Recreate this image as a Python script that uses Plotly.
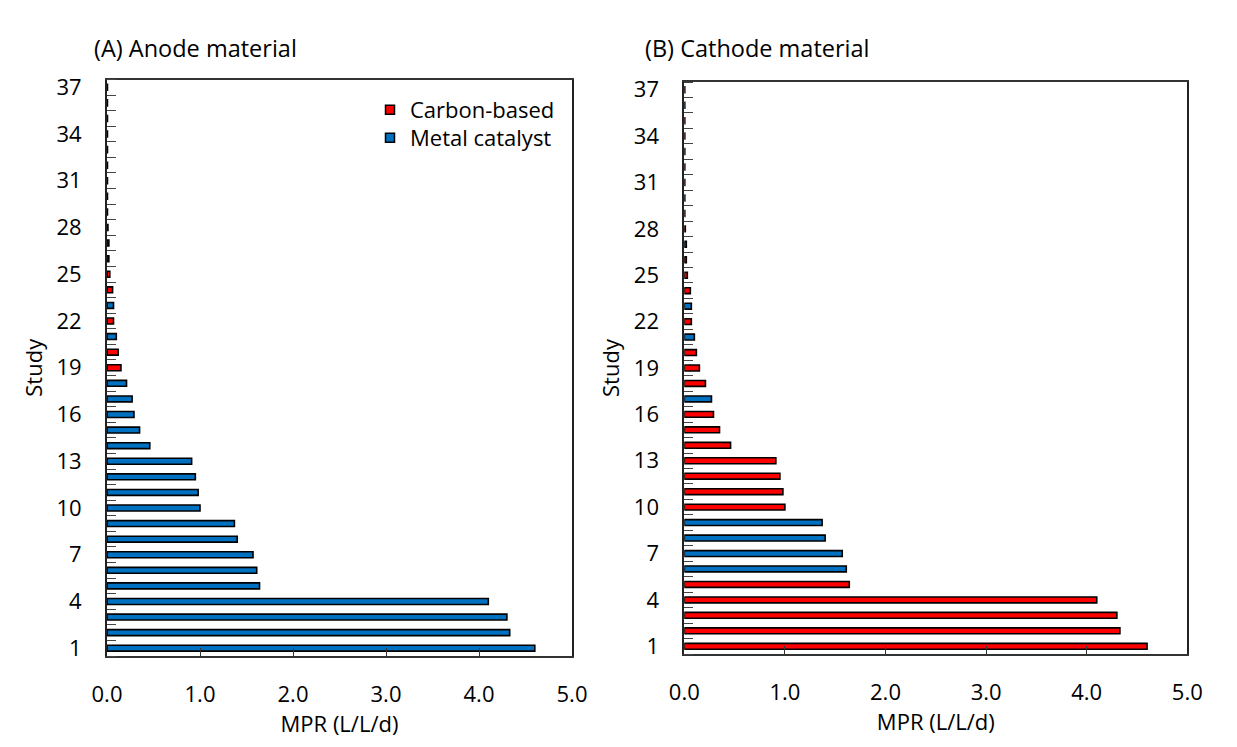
import plotly.graph_objects as go

# Study index (bottom to top) and methane production rate, sorted high to low
studies = list(range(1, 38))
mpr = [4.60, 4.33, 4.30, 4.10, 1.64, 1.61, 1.57, 1.40, 1.37, 1.00,
       0.98, 0.95, 0.91, 0.46, 0.35, 0.29, 0.27, 0.21, 0.15, 0.12,
       0.10, 0.07, 0.07, 0.06, 0.03, 0.02, 0.02, 0.01, 0.005, 0.005,
       0.005, 0.005, 0.005, 0.005, 0.005, 0.005, 0.005]

# Electrode material class for each study: C = carbon-based, M = metal catalyst
anode_type = ["M", "M", "M", "M", "M", "M", "M", "M", "M", "M",
              "M", "M", "M", "M", "M", "M", "M", "M", "C", "C",
              "M", "C", "M", "C", "C", "C", "M", "C", "C", "M",
              "C", "C", "M", "C", "C", "M", "C"]
cathode_type = ["C", "C", "C", "C", "C", "M", "M", "M", "M", "C",
                "C", "C", "C", "C", "C", "C", "M", "C", "C", "C",
                "M", "C", "M", "C", "C", "C", "M", "C", "C", "M",
                "C", "C", "M", "C", "C", "M", "C"]

y_ticks = [1, 4, 7, 10, 13, 16, 19, 22, 25, 28, 31, 34, 37]
x_ticks = [0, 1, 2, 3, 4, 5]
x_tick_text = ["0.0", "1.0", "2.0", "3.0", "4.0", "5.0"]

COLORS = {"C": "#FF0000", "M": "#0070C0"}
NAMES = {"C": "Carbon-based", "M": "Metal catalyst"}
FONT = "'Open Sans', Lato, sans-serif"
FS = 22
W, H = 1237, 747

fig = go.Figure()

for types, xa, ya in [(anode_type, "x", "y"), (cathode_type, "x2", "y2")]:
    fig.add_trace(go.Bar(
        x=mpr, y=studies, orientation="h", xaxis=xa, yaxis=ya,
        width=0.38,
        marker=dict(color=[COLORS[t] for t in types],
                    line=dict(color="black", width=1.6)),
        showlegend=False,
    ))

# Legend entries (square swatches), one legend box per entry
for key, leg in [("C", "legend"), ("M", "legend2")]:
    fig.add_trace(go.Scatter(
        x=[None], y=[None], mode="markers", xaxis="x", yaxis="y",
        name=NAMES[key], legend=leg,
        marker=dict(symbol="square", size=9, color=COLORS[key],
                    line=dict(color="black", width=1.5)),
    ))

boundaries = [i + 0.5 for i in range(0, 38)]

def xaxis(domain, anchor):
    return dict(
        domain=domain, anchor=anchor, range=[0, 5], automargin=False,
        tickvals=x_ticks, ticktext=x_tick_text,
        ticks="inside", ticklen=8, tickwidth=1.3, tickcolor="#333333",
        showline=True, linecolor="#333333", linewidth=1.5, mirror=True,
        showgrid=False, zeroline=False,
        tickfont=dict(family=FONT, size=FS, color="black"),
        ticklabelstandoff=18,
        title=dict(text="MPR (L/L/d)", standoff=2,
                   font=dict(family=FONT, size=FS, color="black")),
    )

def yaxis(domain, anchor):
    return dict(
        domain=domain, anchor=anchor, range=[0.5, 37.5], automargin=False,
        tickvals=y_ticks, ticks="",
        minor=dict(tickvals=boundaries, ticks="inside", ticklen=9,
                   tickwidth=1.3, tickcolor="#444444", showgrid=False),
        showline=True, linecolor="#222222", linewidth=1.8, mirror=True,
        showgrid=False, zeroline=False,
        tickfont=dict(family=FONT, size=FS, color="black"),
        ticklabelstandoff=19,
        title=dict(text="Study", standoff=8,
                   font=dict(family=FONT, size=FS, color="black")),
    )

def legend_box(y_center):
    return dict(x=370 / W, y=1 - y_center / H, xanchor="left", yanchor="middle",
                bgcolor="rgba(0,0,0,0)", itemwidth=30,
                font=dict(family=FONT, size=FS, color="black"))

fig.update_layout(
    width=W, height=H,
    margin=dict(l=0, r=0, t=0, b=0),
    paper_bgcolor="white", plot_bgcolor="white",
    barmode="overlay",
    xaxis=xaxis([107 / W, 572 / W], "y"),
    yaxis=yaxis([1 - 656 / H, 1 - 79.5 / H], "x"),
    xaxis2=xaxis([684.3 / W, 1187.3 / W], "y2"),
    yaxis2=yaxis([1 - 654 / H, 1 - 82 / H], "x2"),
    legend=legend_box(110),
    legend2=legend_box(138),
    annotations=[
        dict(text="(A) Anode material", x=92 / W, y=1 - 48 / H,
             xref="paper", yref="paper", xanchor="left", yanchor="middle",
             showarrow=False, font=dict(family=FONT, size=23.5, color="black")),
        dict(text="(B) Cathode material", x=643 / W, y=1 - 48 / H,
             xref="paper", yref="paper", xanchor="left", yanchor="middle",
             showarrow=False, font=dict(family=FONT, size=23.5, color="black")),
    ],
)

fig.write_html("out.html")
